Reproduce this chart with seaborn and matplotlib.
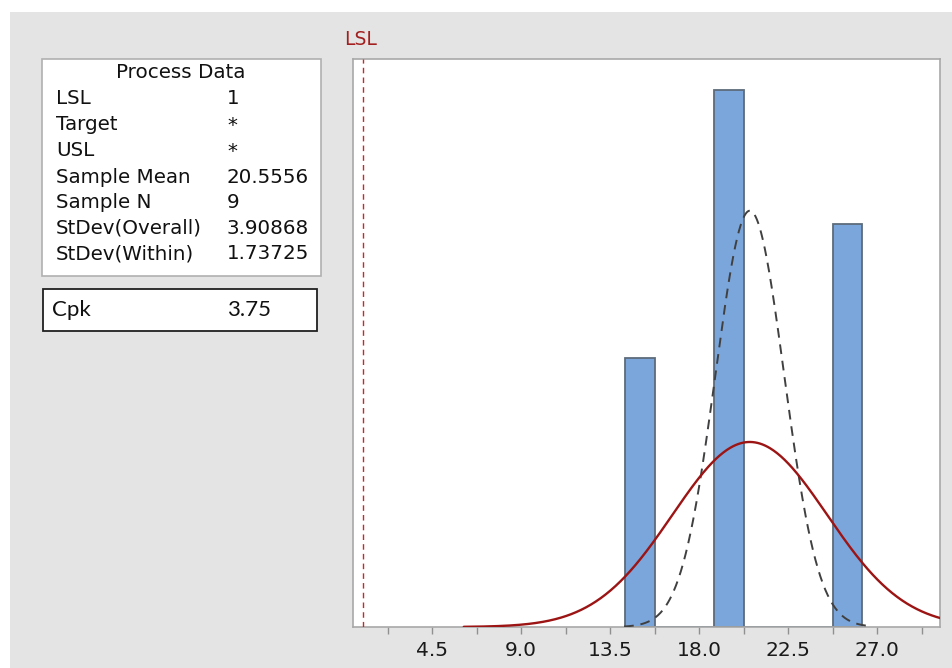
import numpy as np
import pandas as pd
import matplotlib
matplotlib.use("Agg")
import matplotlib.pyplot as plt
from matplotlib.patches import Rectangle
import seaborn as sns

# ---- data ----
bin_centers = [15.0, 16.5, 18.0, 19.5, 21.0, 22.5, 24.0, 25.5]
bin_counts = [2, 0, 0, 4, 0, 0, 0, 3]
bin_width = 1.5
lsl = 1
sample_mean = 20.5556
sample_n = 9
sd_overall = 3.90868
sd_within = 1.73725
cpk = 3.75
overall_range = [6.1, 31.0]
within_range = [14.2, 26.65]
tick_major = [4.5, 9.0, 13.5, 18.0, 22.5, 27.0]
tick_minor = [2.25, 6.75, 11.25, 15.75, 20.25, 24.75, 29.25]
x_limits = [0.5, 30.17]
y_limits = [0, 4.23]

pd_labels = ["LSL", "Target", "USL", "Sample Mean", "Sample N", "StDev(Overall)", "StDev(Within)"]
pd_values = ["1", "*", "*", "20.5556", "9", "3.90868", "1.73725"]

W, H = 953, 668
sns.set_style("white")
plt.rcParams['font.family'] = ['DejaVu Sans']

fig = plt.figure(figsize=(W / 100, H / 100), dpi=100)
fig.patch.set_facecolor("white")

def fx(x):
    return x / W

def fy(y):
    return 1 - y / H

# gray background panel
fig.patches.append(Rectangle((fx(10), 0), 1, fy(12), transform=fig.transFigure,
                             facecolor="#e4e4e4", edgecolor="none", zorder=-10))

ax = fig.add_axes([fx(353), fy(627), fx(940) - fx(353), fy(59) - fy(627)])
ax.set_facecolor("white")

df = pd.DataFrame({"x": bin_centers, "w": bin_counts})
lo = bin_centers[0] - bin_width / 2
hi = bin_centers[-1] + bin_width / 2
sns.histplot(data=df, x="x", weights="w", binwidth=bin_width, binrange=(lo, hi), ax=ax,
             color="#7ba6dc", edgecolor="#5d6b7b", linewidth=1.3, alpha=1.0, zorder=2)

scale = sample_n * bin_width
xo = np.linspace(overall_range[0], overall_range[1], 400)
yo = scale * np.exp(-0.5 * ((xo - sample_mean) / sd_overall) ** 2) / (sd_overall * np.sqrt(2 * np.pi))
xw = np.linspace(within_range[0], within_range[1], 400)
yw = scale * np.exp(-0.5 * ((xw - sample_mean) / sd_within) ** 2) / (sd_within * np.sqrt(2 * np.pi))
sns.lineplot(x=xw, y=yw, ax=ax, color="#404040", linewidth=1.4, linestyle=(0, (5, 3.5)), zorder=3)
sns.lineplot(x=xo, y=yo, ax=ax, color="#9c1414", linewidth=1.7, zorder=4)

ax.axvline(lsl, color="#c8282a", linewidth=1.0, linestyle=(0, (4, 3)), zorder=5)
ax.text(lsl - 0.1, 1.018, "LSL", transform=ax.get_xaxis_transform(), ha="center", va="bottom",
        color="#a31f1f", fontsize=13.5, clip_on=False)

ax.set_xlim(*x_limits)
ax.set_ylim(*y_limits)
ax.set_xticks(tick_major)
ax.set_xticklabels([f"{t:.1f}" for t in tick_major])
ax.set_xticks(tick_minor, minor=True)
ax.set_yticks([])
ax.set_xlabel("")
ax.set_ylabel("")
ax.tick_params(axis="x", which="both", direction="out", length=5, width=1, color="#909090",
               labelsize=14.5, labelcolor="#1a1a1a", pad=5, bottom=True)
for s in ax.spines.values():
    s.set_color("#a8a8a8")
    s.set_linewidth(1.2)

# Process Data box
fs = 14.3
fig.patches.append(Rectangle((fx(42), fy(276)), fx(321) - fx(42), fy(59) - fy(276),
                             transform=fig.transFigure, facecolor="white",
                             edgecolor="#b0b0b0", linewidth=1.2, zorder=1))
fig.text(fx(181), fy(73), "Process Data", ha="center", va="center", fontsize=fs, color="#111111")
row_y = [98, 125, 151, 177, 202, 228, 254]
for lab, val, y in zip(pd_labels, pd_values, row_y):
    fig.text(fx(56), fy(y), lab, ha="left", va="center", fontsize=fs, color="#111111")
    fig.text(fx(227), fy(y), val, ha="left", va="center", fontsize=fs, color="#111111")

# Cpk box
fig.patches.append(Rectangle((fx(43), fy(331)), fx(317) - fx(43), fy(289) - fy(331),
                             transform=fig.transFigure, facecolor="white",
                             edgecolor="#202020", linewidth=1.3, zorder=1))
fig.text(fx(52), fy(310), "Cpk", ha="left", va="center", fontsize=16, color="#111111",
         family=["Lato", "DejaVu Sans"])
fig.text(fx(227), fy(310), f"{cpk:.2f}", ha="left", va="center", fontsize=16, color="#111111",
         family=["Lato", "DejaVu Sans"])

fig.savefig("out.png", dpi=100)
